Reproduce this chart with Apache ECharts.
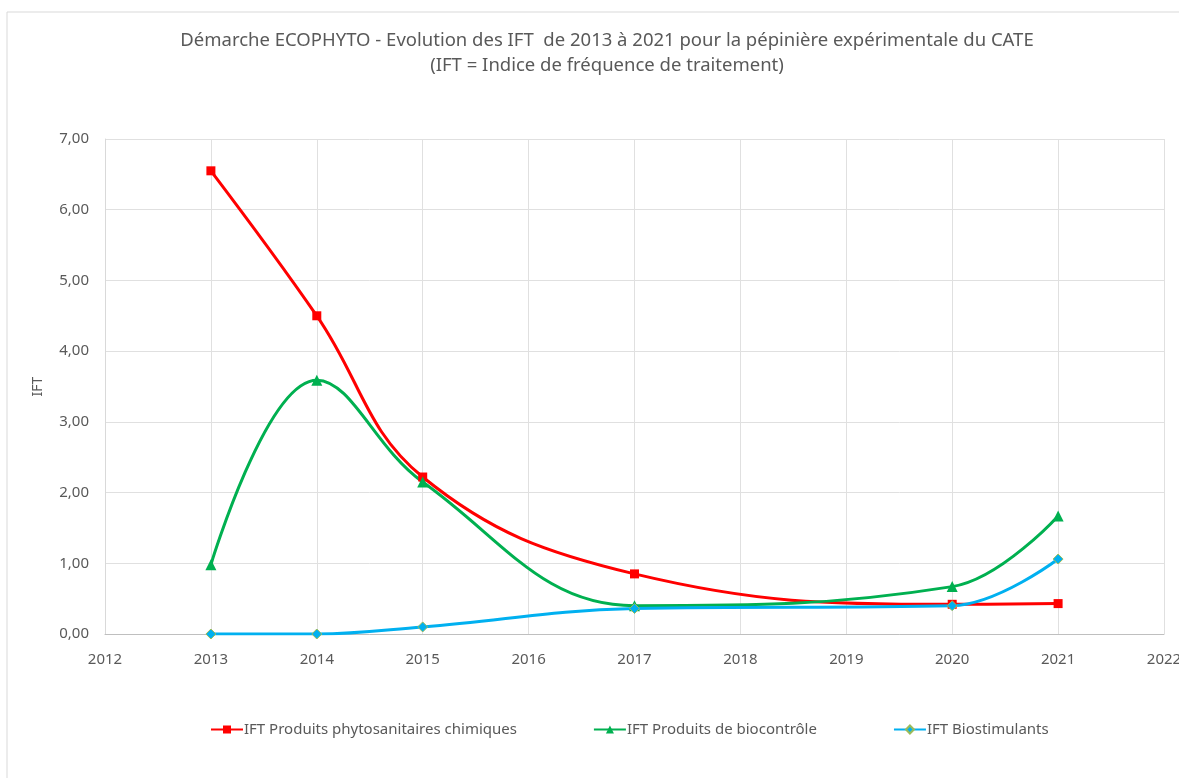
<!DOCTYPE html>
<html>
<head>
<meta charset="utf-8">
<script src="https://cdn.jsdelivr.net/npm/echarts@6/dist/echarts.min.js"></script>
<style>
	html, body { margin: 0; padding: 0; background: #fff; }
	#chart { width: 1179px; height: 778px; }
</style>
</head>
<body>
<div id="chart"></div>
<script>
	// années et valeurs IFT
	var years = [2013, 2014, 2015, 2017, 2020, 2021]
	var chimiques = [6.55, 4.50, 2.22, 0.85, 0.42, 0.43]
	var biocontrole = [0.98, 3.59, 2.15, 0.40, 0.67, 1.67]
	var biostimulants = [0.00, 0.00, 0.10, 0.36, 0.40, 1.06]
	var seriesNames = ['IFT Produits phytosanitaires chimiques', 'IFT Produits de biocontrôle', 'IFT Biostimulants']

	function pairs(vals) {
		return years.map(function (y, i) { return [y, vals[i]] })
	}

	var font = 'Noto Sans'
	var grey = '#595959'
	var chart = echarts.init(document.getElementById('chart'))
	var option = {
		animation: false,
		textStyle: { fontFamily: font },
		title: {
			text: 'Démarche ECOPHYTO - Evolution des IFT  de 2013 à 2021 pour la pépinière expérimentale du CATE\n(IFT = Indice de fréquence de traitement)',
			left: 602,
			top: 23,
			textAlign: 'center',
			textStyle: { fontFamily: font, fontSize: 18.5, fontWeight: 'normal', color: grey, lineHeight: 25 }
		},
		graphic: [{
			type: 'polyline',
			shape: { points: [[7, 778], [7, 12], [1179, 12]] },
			style: { stroke: '#d9d9d9', fill: null, lineWidth: 1 }
		}],
		legend: {
			bottom: 36,
			left: 205,
			itemGap: 76,
			itemWidth: 32,
			itemHeight: 10,
			data: seriesNames,
			textStyle: { fontFamily: font, fontSize: 15, color: grey, padding: [0, 0, 0, -4] }
		},
		grid: { left: 105, right: 15, top: 139, bottom: 144, outerBoundsMode: 'none' },
		xAxis: {
			type: 'value',
			min: 2012,
			max: 2022,
			interval: 1,
			axisLine: { lineStyle: { color: '#bfbfbf' } },
			axisTick: { show: false },
			splitLine: { show: true, lineStyle: { color: '#e0e0e0' } },
			axisLabel: { color: grey, fontSize: 15, margin: 18, formatter: function (v) { return String(v) } }
		},
		yAxis: {
			type: 'value',
			min: 0,
			max: 7,
			interval: 1,
			name: 'IFT',
			nameLocation: 'middle',
			nameGap: 60,
			nameTextStyle: { color: grey, fontSize: 14 },
			axisLine: { show: true, lineStyle: { color: '#d9d9d9' } },
			axisTick: { show: false },
			splitLine: { lineStyle: { color: '#e0e0e0' } },
			axisLabel: { color: grey, fontSize: 15, margin: 16, formatter: function (v) { return v.toFixed(2).replace('.', ',') } }
		},
		series: [{
			name: seriesNames[0],
			type: 'line',
			smooth: 0.4,
			data: pairs(chimiques),
			symbol: 'rect',
			symbolSize: 9,
			lineStyle: { color: '#ff0000', width: 3 },
			itemStyle: { color: '#ff0000' }
		}, {
			name: seriesNames[1],
			type: 'line',
			smooth: 0.4,
			data: pairs(biocontrole),
			symbol: 'triangle',
			symbolSize: 11,
			lineStyle: { color: '#00b050', width: 3 },
			itemStyle: { color: '#00b050' }
		}, {
			name: seriesNames[2],
			type: 'line',
			smooth: 0.4,
			data: pairs(biostimulants),
			symbol: 'diamond',
			symbolSize: 10,
			lineStyle: { color: '#00b0f0', width: 3 },
			itemStyle: { color: '#00b0f0', borderColor: '#9bbb59', borderWidth: 1 }
		}]
	}
	chart.setOption(option)
</script>
</body>
</html>
